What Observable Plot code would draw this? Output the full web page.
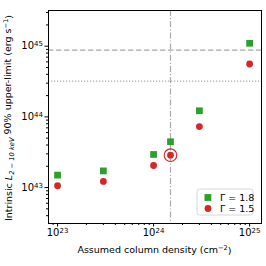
<!DOCTYPE html>
<html><head><meta charset="utf-8">
<script src="https://cdn.jsdelivr.net/npm/d3@7"></script>
<script src="https://cdn.jsdelivr.net/npm/@observablehq/plot@0.6"></script>
<style>
body{margin:0;background:#fff;font-family:"DejaVu Sans",sans-serif;}
#wrap{position:relative;width:266px;height:266px;}
</style></head><body><div id="wrap"></div>
<script>
// ---- data ----
const columnDensity = [1e23, 3e23, 1e24, 1.5e24, 3e24, 1e25];
const lumGamma18 = [1.5e43, 1.72e43, 2.94e43, 4.45e43, 1.22e44, 1.1e45];
const lumGamma15 = [1.06e43, 1.22e43, 2.05e43, 2.87e43, 7.3e43, 5.6e44];
const seriesNames = ["Γ = 1.8", "Γ = 1.5"];
const seriesColors = ["#2ca02c", "#d62728"];
const seriesSymbols = ["square", "circle"];
const dashedLevel = [8.8e44];
const dottedLevel = [3.2e44];
const markedDensity = [1.5e24];
const highlightIndex = 3;
const xMajor = [1e23, 1e24, 1e25];
const yMajor = [1e43, 1e44, 1e45];
const xTickLabels = ["10^23", "10^24", "10^25"];
const yTickLabels = ["10^43", "10^44", "10^45"];

const xDomain = [8.05e22, 1.33e25];
const yDomain = [3.1e42, 3.2e45];
function minorTicks(dom){
  const out=[];
  for(let e=Math.floor(Math.log10(dom[0])); e<=Math.ceil(Math.log10(dom[1])); e++)
    for(let m=2;m<=9;m++){const v=m*Math.pow(10,e); if(v>=dom[0]&&v<=dom[1]) out.push(v);}
  return out;
}

const pts18 = columnDensity.map((x,i)=>({x, y:lumGamma18[i]}));
const pts15 = columnDensity.map((x,i)=>({x, y:lumGamma15[i]}));
const hl = [pts15[highlightIndex]];

const plot = Plot.plot({
  width:266, height:266,
  marginLeft:48, marginRight:5, marginTop:10, marginBottom:43,
  style:{fontFamily:"DejaVu Sans", fontSize:"9.5px", color:"#000", background:"#fff", overflow:"visible"},
  x:{type:"log", domain:xDomain, label:null},
  y:{type:"log", domain:yDomain, label:null},
  marks:[
    Plot.ruleY(dashedLevel, {stroke:"#aaa", strokeDasharray:"5.5,2.5", strokeWidth:1.2}),
    Plot.ruleY(dottedLevel, {stroke:"#aaa", strokeDasharray:"1.2,1.8", strokeWidth:1.2}),
    Plot.ruleX(markedDensity, {stroke:"#aaa", strokeDasharray:"6,2,1.2,2", strokeWidth:1.2}),
    Plot.dot(pts18, {x:"x", y:"y", symbol:"square", r:3.8, fill:seriesColors[0]}),
    Plot.dot(pts15, {x:"x", y:"y", symbol:"circle", r:3.4, fill:seriesColors[1]}),
    Plot.dot(hl, {x:"x", y:"y", r:6.3, stroke:seriesColors[1], strokeWidth:1.1, fill:"none"}),
    Plot.axisX(xMajor, {tickSize:3.5, tickPadding:2, tickFormat:(d,i)=>xTickLabels[xMajor.indexOf(d)], fontSize:10, label:null}),
    Plot.axisX(minorTicks(xDomain), {tickSize:2, tickFormat:()=>"", label:null}),
    Plot.axisY(yMajor, {tickSize:3.5, tickPadding:2, tickFormat:(d)=>yTickLabels[yMajor.indexOf(d)], fontSize:10, label:null}),
    Plot.axisY(minorTicks(yDomain), {tickSize:2, tickFormat:()=>"", label:null}),
    Plot.frame({stroke:"#000", strokeWidth:1})
  ]
});
document.getElementById("wrap").appendChild(plot);
const svg = d3.select(plot);

// superscript tick labels
svg.selectAll("text").each(function(){
  const t = this.textContent;
  if(t.includes("^")){
    const [base, exp] = t.split("^");
    const el = d3.select(this);
    el.selectAll("*").remove();
    el.text(null);
    el.append("tspan").text(base);
    el.append("tspan").attr("dy","-0.45em").attr("font-size","7px").text(exp);
  }
});

// x label
const xl = svg.append("text").attr("x",154.5).attr("y",252.5).attr("text-anchor","middle")
  .attr("font-size","9.5px").attr("font-family","DejaVu Sans").attr("fill","#000");
xl.append("tspan").text("Assumed column density (cm");
xl.append("tspan").attr("dy","-0.4em").attr("font-size","6.7px").text("−2");
xl.append("tspan").attr("dy","0.4em").text(")");

// y label
const yl = svg.append("text").attr("transform","translate(11.5,118) rotate(-90)").attr("text-anchor","middle")
  .attr("font-size","9.5px").attr("font-family","DejaVu Sans").attr("fill","#000");
yl.append("tspan").text("Intrinsic ");
yl.append("tspan").attr("font-style","italic").text("L");
yl.append("tspan").attr("dy","0.3em").attr("font-size","6.7px").attr("font-style","italic").text("2 − 10 keV");
yl.append("tspan").attr("dy","-0.3em").text(" 90% upper-limit (erg s");
yl.append("tspan").attr("dy","-0.4em").attr("font-size","6.7px").text("−1");
yl.append("tspan").attr("dy","0.4em").text(")");

// legend
const lg = svg.append("g").attr("transform","translate(197,189)");
lg.append("rect").attr("width",56).attr("height",26).attr("rx",2.5).attr("fill","#fff").attr("fill-opacity",0.8)
  .attr("stroke","#ccc").attr("stroke-width",0.8);
seriesNames.forEach((name,i)=>{
  const cy = 8.5 + i*11;
  if(seriesSymbols[i]==="square")
    lg.append("rect").attr("x",7.5).attr("y",cy-3.4).attr("width",6.8).attr("height",6.8).attr("fill",seriesColors[i]);
  else
    lg.append("circle").attr("cx",11).attr("cy",cy).attr("r",3.4).attr("fill",seriesColors[i]);
  lg.append("text").attr("x",23).attr("y",cy+3.5).attr("text-anchor","start").attr("font-size","9.5px")
    .attr("font-family","DejaVu Sans").attr("fill","#000").text(name);
});
</script></body></html>
